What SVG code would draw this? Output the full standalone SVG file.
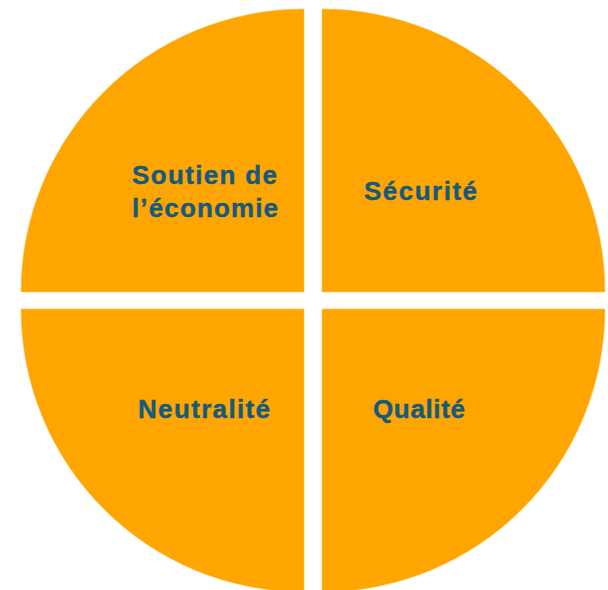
<svg xmlns="http://www.w3.org/2000/svg" width="608" height="590" viewBox="0 0 608 590">
<style>
.q{fill:#FFA500;stroke:#FFC55A;stroke-width:0.6}
.t{font-family:"Liberation Sans",Arial,sans-serif;font-weight:bold;font-size:26px;fill:#155A7D;stroke:#155A7D;stroke-width:0.4}
</style>
<rect width="608" height="590" fill="#FFFFFF"/>
<g id="soutien">
<path class="q" d="M304,292 L21,292 A283,283 0 0 1 304,9 Z"/>
<text class="t" x="132" y="184" textLength="145" lengthAdjust="spacing">Soutien de</text>
<text class="t" x="132" y="217" textLength="146" lengthAdjust="spacing">l’économie</text>
</g>
<g id="securite">
<path class="q" d="M322,292 L322,9 A283,283 0 0 1 605,292 Z"/>
<text class="t" x="364" y="200" textLength="113" lengthAdjust="spacing">Sécurité</text>
</g>
<g id="qualite">
<path class="q" d="M322,309 L605,309 A283,283 0 0 1 322,592 Z"/>
<text class="t" x="373" y="418" textLength="92" lengthAdjust="spacing">Qualité</text>
</g>
<g id="neutralite">
<path class="q" d="M304,309 L304,592 A283,283 0 0 1 21,309 Z"/>
<text class="t" x="138" y="418" textLength="132" lengthAdjust="spacing">Neutralité</text>
</g>
<g id="connectors"></g>
</svg>
